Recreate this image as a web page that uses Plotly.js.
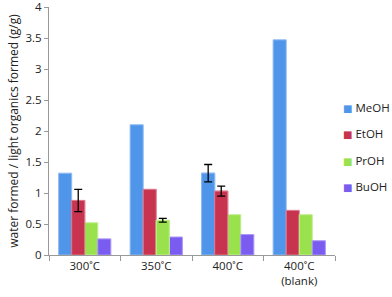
<!DOCTYPE html>
<html><head><meta charset="utf-8">
<script src="https://cdn.plot.ly/plotly-3.0.1.min.js"></script>
<style>html,body{margin:0;padding:0;background:#fff;}#c{width:392px;height:297px;}</style>
</head><body><div id="c"></div>
<script>
var categories = ["300˚C", "350˚C", "400˚C", "400˚C<br>(blank)"];
var seriesNames = ["MeOH", "EtOH", "PrOH", "BuOH"];
var meoh = [1.32, 2.10, 1.32, 3.47];
var etoh = [0.88, 1.06, 1.03, 0.72];
var proh = [0.52, 0.56, 0.65, 0.65];
var buoh = [0.26, 0.29, 0.33, 0.23];
var meohErr = [null, null, 0.14, null];
var etohErr = [0.18, null, 0.08, null];
var prohErr = [null, 0.03, null, null];
var buohErr = [null, null, null, null];
var yTicks = [0, 0.5, 1, 1.5, 2, 2.5, 3, 3.5, 4];
var yTickText = ["0", "0.5", "1", "1.5", "2", "2.5", "3", "3.5", "4"];

var vals = [meoh, etoh, proh, buoh];
var errs = [meohErr, etohErr, prohErr, buohErr];
var colors = ["#4f95ea", "#c83350", "#9ae24d", "#7a5cf0"];
var lineColors = ["#8dbaf2", "#dc7c8e", "#c2ee92", "#ab98f5"];

var traces = [];
seriesNames.forEach(function(n, i) {
  traces.push({
    type: "bar", name: n, x: categories, y: vals[i],
    legendgroup: n, offsetgroup: n, showlegend: false,
    marker: {color: colors[i], line: {color: lineColors[i], width: 1}}
  });
});
seriesNames.forEach(function(n, i) {
  var hasErr = errs[i].some(function(e){return e !== null;});
  if (!hasErr) return;
  traces.push({
    type: "bar", name: n, x: categories,
    y: vals[i].map(function(v, j){ return errs[i][j] !== null ? v : null; }),
    legendgroup: n, offsetgroup: n, showlegend: false,
    marker: {color: colors[i], line: {color: lineColors[i], width: 1}},
    error_y: {type: "data", array: errs[i].map(function(e){return e === null ? 0 : e;}), visible: true, color: "#000", thickness: 1.3, width: 4}
  });
});

// legend drawn as text entries at the right
var legendY = [0.593, 0.488, 0.38, 0.278];
var annotations = seriesNames.map(function(n, i) {
  return {
    xref: "paper", yref: "paper", x: 1.022, y: legendY[i],
    xanchor: "left", yanchor: "middle", showarrow: false,
    text: "<span style='color:" + colors[i] + ";font-size:10px'>■</span> " + n,
    font: {size: 11.5, color: "#222"}
  };
});

var layout = {
  width: 392, height: 297,
  margin: {l: 49, r: 57, t: 7, b: 42},
  paper_bgcolor: "#fff", plot_bgcolor: "#fff",
  font: {family: "Open Sans, DejaVu Sans, sans-serif", size: 11, color: "#222"},
  barmode: "group", bargap: 0.27, bargroupgap: 0,
  showlegend: false,
  annotations: annotations,
  xaxis: {
    type: "category", showline: true, linecolor: "#999", linewidth: 1,
    ticks: "outside", tickson: "boundaries", ticklen: 5, tickcolor: "#999",
    showgrid: false, tickfont: {size: 11.5, color: "#222"}
  },
  yaxis: {
    range: [0, 4.0001], tickvals: yTicks, ticktext: yTickText, ticklabeloverflow: "allow",
    showline: true, linecolor: "#999", linewidth: 1,
    ticks: "outside", ticklen: 4, tickcolor: "#999", showgrid: false, zeroline: false,
    tickfont: {size: 11.5, color: "#222"},
    title: {text: "water formed / light organics formed (g/g)", font: {size: 12, color: "#222"}, standoff: 4}
  }
};
Plotly.newPlot("c", traces, layout, {displayModeBar: false, staticPlot: true});
</script></body></html>
